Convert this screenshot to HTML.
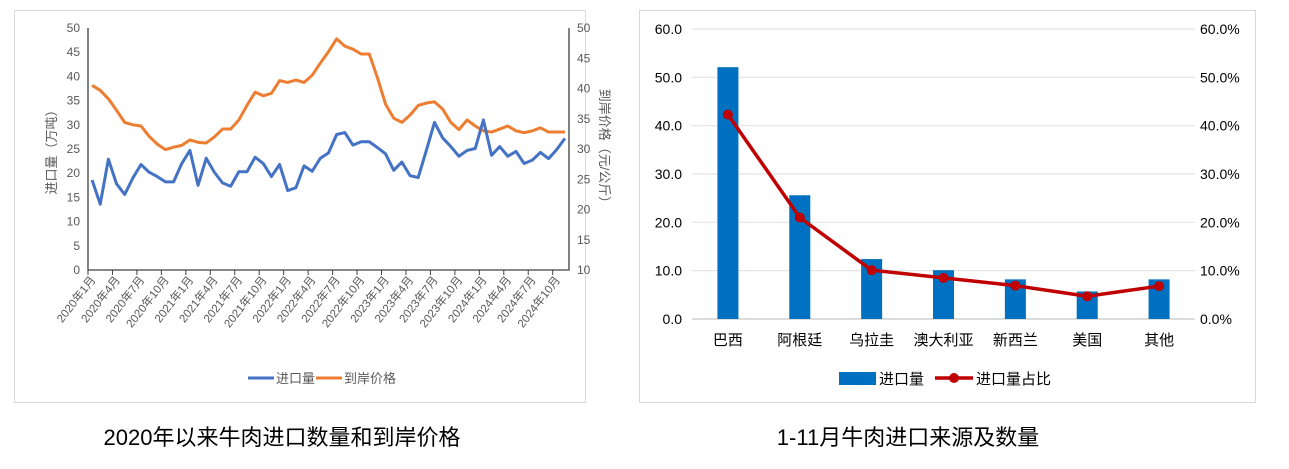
<!DOCTYPE html>
<html><head><meta charset="utf-8">
<style>
body{margin:0;background:#fff;width:1289px;height:469px;overflow:hidden;font-family:"Liberation Sans","Noto Sans CJK SC",sans-serif;}
svg{position:absolute;left:0;top:0}
</style></head>
<body>
<svg width="1289" height="469" font-family="Liberation Sans, Noto Sans CJK SC, sans-serif">
<rect x="14.5" y="10.5" width="571" height="392" fill="none" stroke="#d9d9d9"/>
<rect x="639.5" y="10.5" width="616" height="392" fill="none" stroke="#d9d9d9"/>
<g id="left"></g>
<g id="right"></g>
<text x="282" y="445" font-size="22" text-anchor="middle" fill="#000">2020年以来牛肉进口数量和到岸价格</text>
<text x="908" y="445" font-size="22" text-anchor="middle" fill="#000">1-11月牛肉进口来源及数量</text>
</svg>
<script>
const NS="http://www.w3.org/2000/svg";
// ---- left chart data ----
const volume=[18.6,13.6,22.9,17.8,15.6,19,21.8,20.2,19.3,18.2,18.2,22,24.7,17.5,23.1,20.2,18,17.3,20.3,20.3,23.3,22,19.3,21.8,16.4,17,21.5,20.4,23.1,24.2,28,28.4,25.8,26.5,26.5,25.3,24,20.6,22.3,19.5,19.1,24.7,30.5,27.3,25.5,23.5,24.7,25.1,31,23.7,25.5,23.5,24.5,22,22.7,24.3,23,24.9,27.2];
const price=[40.5,39.7,38.3,36.4,34.4,34,33.8,32.1,30.8,29.9,30.3,30.6,31.5,31.1,31,32,33.3,33.3,34.8,37.2,39.4,38.8,39.2,41.3,41,41.4,41,42.2,44.2,46.1,48.2,47,46.5,45.7,45.7,41.8,37.4,35.1,34.4,35.6,37.2,37.6,37.8,36.6,34.4,33.2,34.8,33.8,33,32.8,33.3,33.8,33,32.7,33,33.5,32.8,32.8,32.8];
const leftTicks=[0,5,10,15,20,25,30,35,40,45,50];
const rightTicks=[10,15,20,25,30,35,40,45,50];
// ---- right chart data ----
const countries=["巴西","阿根廷","乌拉圭","澳大利亚","新西兰","美国","其他"];
const amounts=[52.1,25.6,12.4,10.1,8.2,5.7,8.2];
const shares=[42.3,21.0,10.1,8.5,6.9,4.7,6.8];
const barTicks=[0,10,20,30,40,50,60];

function mk(tag,attrs,parent,text){const e=document.createElementNS(NS,tag);for(const k in attrs)e.setAttribute(k,attrs[k]);if(text!==undefined)e.textContent=text;parent.appendChild(e);return e;}
function monthLabel(i){return (2020+Math.floor(i/12))+"年"+(i%12+1)+"月";}

// left chart
const L=document.getElementById('left');
const x0=88,x1=569,yb=270,yt=28,n=volume.length,cw=(x1-x0)/n;
const xL=i=>x0+cw*(i+0.5);
const yL=v=>yb-(v/50)*(yb-yt);
const yR=v=>yb-((v-10)/40)*(yb-yt);
leftTicks.forEach(t=>{const e=mk('text',{x:80,y:yL(t)+4,'font-size':12,'text-anchor':'end',fill:'#595959'},L,t);

});
rightTicks.forEach(t=>{const e=mk('text',{x:577,y:yR(t)+4,'font-size':12,fill:'#595959'},L,t);

});
let ax=mk('path',{d:`M${x0} ${yt}V${yb}H${x1}V${yt}`,stroke:'#404040','stroke-width':1.3,fill:'none'},L);


for(let i=0;i<=n;i+=3){const tx=x0+cw*i;
const t=mk('line',{x1:tx,x2:tx,y1:yb,y2:yb+5,stroke:'#404040'},L);


if(i<n){const lx=xL(i)+4,ly=yb+10;
const lab=mk('text',{x:lx,y:ly,'font-size':11.5,'text-anchor':'end',fill:'#595959',transform:`rotate(-52 ${lx} ${ly})`},L,monthLabel(i));

}}
const pl=mk('polyline',{points:price.map((v,i)=>xL(i)+','+yR(v)).join(' '),fill:'none',stroke:'#ed7d31','stroke-width':3,'stroke-linejoin':'round'},L);


const vl=mk('polyline',{points:volume.map((v,i)=>xL(i)+','+yL(v)).join(' '),fill:'none',stroke:'#4472c4','stroke-width':3,'stroke-linejoin':'round'},L);


let at=mk('text',{x:56,y:149,'font-size':13,fill:'#595959','text-anchor':'middle',transform:'rotate(-90 56 149)'},L,'进口量（万吨）');


at=mk('text',{x:600,y:149,'font-size':13,fill:'#595959','text-anchor':'middle',transform:'rotate(90 600 149)'},L,'到岸价格（元/公斤）');


let lg=mk('line',{x1:248,x2:274,y1:378,y2:378,stroke:'#4472c4','stroke-width':3},L);


lg=mk('text',{x:276,y:383,'font-size':13,fill:'#595959'},L,'进口量');


lg=mk('line',{x1:316,x2:342,y1:378,y2:378,stroke:'#ed7d31','stroke-width':3},L);


lg=mk('text',{x:344,y:383,'font-size':13,fill:'#595959'},L,'到岸价格');



// right chart
const R=document.getElementById('right');
const bx0=692,bx1=1195,bb=319,bt=29,m=countries.length,bw=(bx1-bx0)/m;
const xB=i=>bx0+bw*(i+0.5);
const yB=v=>bb-(v/60)*(bb-bt);
const yS=v=>bb-(v/60)*(bb-bt);
barTicks.forEach(t=>{
const g=mk('line',{x1:bx0,x2:bx1,y1:yB(t),y2:yB(t),stroke:t===0?'#d0d0d0':'#e3e3e3','stroke-width':t===0?1.5:1.2},R);


const a=mk('text',{x:682,y:yB(t)+5,'font-size':14,'text-anchor':'end',fill:'#000'},R,t.toFixed(1));


const b=mk('text',{x:1200,y:yB(t)+5,'font-size':14,fill:'#000'},R,t.toFixed(1)+'%');

});
amounts.forEach((v,i)=>{
const r=mk('rect',{x:xB(i)-10.5,y:yB(v),width:21,height:bb-yB(v),fill:'#0070c0'},R);


const c=mk('text',{x:xB(i),y:345,'font-size':15,'text-anchor':'middle',fill:'#000'},R,countries[i]);

});
const sl=mk('polyline',{points:shares.map((v,i)=>xB(i)+','+yS(v)).join(' '),fill:'none',stroke:'#c00000','stroke-width':3.5,'stroke-linejoin':'round'},R);


shares.forEach((v,i)=>{const p=mk('circle',{cx:xB(i),cy:yS(v),r:5,fill:'#c00000'},R);

});
lg=mk('rect',{x:839,y:372,width:37,height:13,fill:'#0070c0'},R);


lg=mk('text',{x:879,y:384,'font-size':15,fill:'#000'},R,'进口量');


lg=mk('line',{x1:935,x2:973,y1:378,y2:378,stroke:'#c00000','stroke-width':3.5},R);


lg=mk('circle',{cx:954,cy:378,r:5,fill:'#c00000'},R);


lg=mk('text',{x:976,y:384,'font-size':15,fill:'#000'},R,'进口量占比');


</script>
</body></html>
